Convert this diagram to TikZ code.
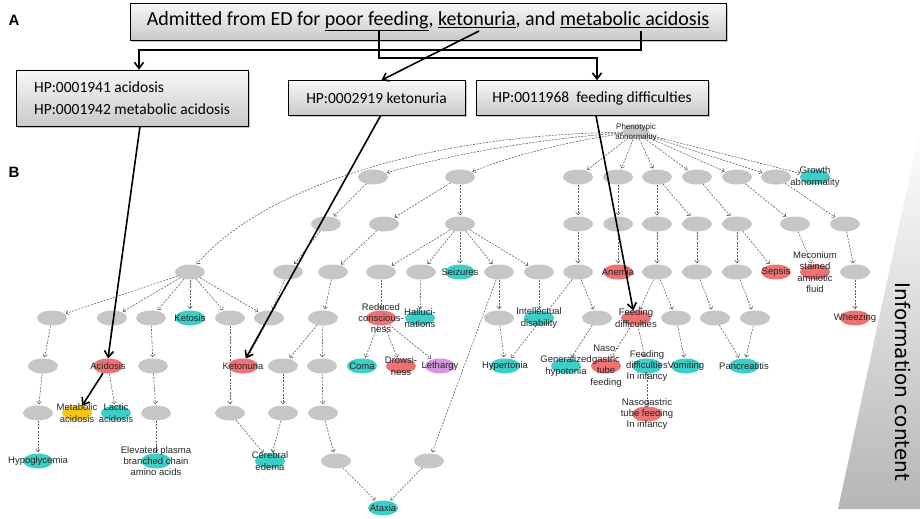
\documentclass[tikz,border=0pt]{standalone}
\usepackage{fontspec}
\setmainfont{Carlito}
\setsansfont{Liberation Sans}
\newfontfamily\icfont{DejaVu Sans}
\usetikzlibrary{shapes.geometric,arrows.meta,shadows,backgrounds}

\definecolor{nodegray}{RGB}{198,198,198}
\definecolor{hpoteal}{RGB}{62,206,200}
\definecolor{hpored}{RGB}{236,114,116}
\definecolor{hpoyellow}{RGB}{246,198,18}
\definecolor{hpopurple}{RGB}{214,150,226}
\definecolor{edgegray}{RGB}{95,95,95}

\begin{document}
\begin{tikzpicture}[x=1pt, y=-1pt,
    hpo/.style={ellipse, fill=nodegray, minimum width=30pt, minimum height=15pt, inner sep=0pt},
    tealhpo/.style={hpo, fill=hpoteal},
    redhpo/.style={hpo, fill=hpored},
    yellowhpo/.style={hpo, fill=hpoyellow},
    purplehpo/.style={hpo, fill=hpopurple},
    lbl/.style={font=\sffamily\fontsize{9.5}{11.3}\selectfont, align=center, inner sep=0pt, text=black!85},
    txt/.style={label={[lbl]center:#1}},
    isa/.style={-{Straight Barb[length=2.5pt,width=4.5pt]}, dash pattern=on 2pt off 1.3pt, line width=0.6pt, draw=edgegray, shorten >=1pt},
    map/.style={-{Straight Barb[length=6pt,width=9pt]}, line width=1.6pt, black},
    hpbox/.style={draw=black, line width=0.6pt, top color=gray!6, bottom color=gray!42, drop shadow={shadow xshift=2pt, shadow yshift=-2pt, opacity=0.45}}
  ]
  \useasboundingbox (0,0) rectangle (922,519);

  % panel letters
  \node[font=\sffamily\bfseries\fontsize{15}{15}\selectfont] (panA) at (14,20) {A};
  \node[font=\sffamily\bfseries\fontsize{15}{15}\selectfont] (panB) at (14,172) {B};

  % admission note and HPO terms
  \node[hpbox, minimum width=596pt, minimum height=37pt, font=\fontsize{20}{24}\selectfont] (admit) at (428,21.5)
    {Admitted from ED for \underline{poor feeding}, \underline{ketonuria}, and \underline{metabolic acidosis}};
  \coordinate (poor) at (379,31);
  \coordinate (keto) at (479,31);
  \coordinate (meta) at (641,31);
  \node[hpbox, minimum width=232pt, minimum height=56pt, align=left, font=\fontsize{15.5}{22}\selectfont] (hpacid) at (132,98)
    {HP:0001941 acidosis\\HP:0001942 metabolic acidosis};
  \node[hpbox, minimum width=177pt, minimum height=35pt, font=\fontsize{15.5}{20}\selectfont] (hpketo) at (376.5,98) {HP:0002919 ketonuria};
  \node[hpbox, minimum width=232pt, minimum height=35pt, font=\fontsize{15.5}{20}\selectfont] (hpfeed) at (592,98) {HP:0011968\ \ feeding difficulties};

  % root
  \node[hpo, minimum width=26pt, label={[lbl, font=\sffamily\fontsize{8}{10}\selectfont]center:Phenotypic\\abnormality}] (pheno) at (636,132) {};

  % row 1
  \node[hpo] (r1a) at (373,177) {};
  \node[hpo] (r1b) at (460,177) {};
  \node[hpo] (r1c) at (578,177) {};
  \node[hpo] (r1d) at (618,177) {};
  \node[hpo] (r1e) at (657,177) {};
  \node[hpo] (r1f) at (697,177) {};
  \node[hpo] (r1g) at (737,177) {};
  \node[hpo] (r1h) at (776,177) {};
  \node[tealhpo, txt={Growth\\abnormality}] (growth) at (815,177) {};

  % row 2
  \node[hpo] (r2a) at (326,224) {};
  \node[hpo] (r2b) at (384,224) {};
  \node[hpo] (r2c) at (460,224) {};
  \node[hpo] (r2d) at (578,224) {};
  \node[hpo] (r2e) at (618,224) {};
  \node[hpo] (r2f) at (657,224) {};
  \node[hpo] (r2g) at (697,224) {};
  \node[hpo] (r2h) at (737,224) {};
  \node[hpo] (r2i) at (795,224) {};
  \node[hpo] (r2j) at (845,224) {};

  % row 3
  \node[hpo] (r3k) at (190,272) {};
  \node[hpo] (r3a) at (288,272) {};
  \node[hpo] (r3b) at (333,272) {};
  \node[hpo] (r3c) at (381,272) {};
  \node[hpo] (r3d) at (421,272) {};
  \node[tealhpo, txt={Seizures}] (seiz) at (460,272) {};
  \node[hpo] (r3e) at (499,272) {};
  \node[hpo] (r3f) at (539,272) {};
  \node[hpo] (r3g) at (578,272) {};
  \node[redhpo, txt={Anemia}] (anemia) at (618,272) {};
  \node[hpo] (r3h) at (657,272) {};
  \node[hpo] (r3i) at (697,272) {};
  \node[hpo] (r3j) at (737,272) {};
  \node[redhpo, txt={Sepsis}] (sepsis) at (776,272) {};
  \node[redhpo, txt={Meconium\\stained\\amniotic\\fluid}] (mecon) at (815,272) {};
  \node[hpo] (r3l) at (855,272) {};

  % row 4
  \node[hpo] (r4a) at (52,318) {};
  \node[hpo] (r4b) at (112,318) {};
  \node[hpo] (r4c) at (151,318) {};
  \node[tealhpo, txt={Ketosis}] (ketosis) at (190,318) {};
  \node[hpo] (r4d) at (230,318) {};
  \node[hpo] (r4e) at (269,318) {};
  \node[hpo] (r4f) at (323,318) {};
  \node[redhpo, txt={Reduced\\conscious-\\ness}] (redcon) at (381,318) {};
  \node[tealhpo, txt={Halluci-\\nations}] (halluc) at (420,318) {};
  \node[hpo] (r4g) at (499,318) {};
  \node[tealhpo, txt={Intellectual\\disability}] (intdis) at (539,318) {};
  \node[hpo] (r4h) at (597,318) {};
  \node[redhpo, txt={Feeding\\difficulties}] (feeddiff) at (636,318) {};
  \node[hpo] (r4i) at (676,318) {};
  \node[hpo] (r4j) at (715,318) {};
  \node[hpo] (r4k) at (755,318) {};
  \node[redhpo, txt={Wheezing}] (wheez) at (855,318) {};

  % row 5
  \node[hpo] (r5a) at (43,366) {};
  \node[redhpo, txt={Acidosis}] (acid) at (108,366) {};
  \node[hpo] (r5b) at (153,366) {};
  \node[redhpo, txt={Ketonuria}] (ketonuria) at (243,366) {};
  \node[hpo] (r5c) at (283,366) {};
  \node[hpo] (r5d) at (322,366) {};
  \node[tealhpo, txt={Coma}] (coma) at (362,366) {};
  \node[redhpo, txt={Drowsi-\\ness}] (drows) at (401,366) {};
  \node[purplehpo, txt={Lethargy}] (leth) at (440,366) {};
  \node[tealhpo, txt={Hypertonia}] (hypert) at (505,366) {};
  \node[tealhpo, txt={Generalized\\hypotonia}] (genhyp) at (566,366) {};
  \node[redhpo, txt={Naso-\\gastric\\tube\\feeding}] (naso) at (606,366) {};
  \node[tealhpo, txt={Feeding\\difficulties\\In infancy}] (fdinf) at (647,366) {};
  \node[tealhpo, txt={Vomiting}] (vomit) at (686,366) {};
  \node[tealhpo, txt={Pancreatitis}] (pancr) at (744,366) {};

  % row 6
  \node[hpo] (r6a) at (38,413) {};
  \node[yellowhpo, txt={Metabolic\\acidosis}] (metacid) at (77,413) {};
  \node[tealhpo, txt={Lactic\\acidosis}] (lactic) at (116,413) {};
  \node[hpo] (r6b) at (156,413) {};
  \node[hpo] (r6c) at (230,413) {};
  \node[hpo] (r6d) at (283,413) {};
  \node[hpo] (r6e) at (323,413) {};
  \node[redhpo, txt={Nasogastric\\tube feeding\\In infancy}] (nasoinf) at (647,414) {};

  % row 7 and 8
  \node[tealhpo, txt={Hypoglycemia}] (hypogl) at (38,461) {};
  \node[tealhpo, txt={Elevated plasma\\branched chain\\amino acids}] (elev) at (156,461) {};
  \node[tealhpo, txt={Cerebral\\edema}] (cereb) at (270,461) {};
  \node[hpo] (r7a) at (336,461) {};
  \node[hpo] (r7b) at (429,461) {};
  \node[tealhpo, txt={Ataxia}] (ataxia) at (383,508) {};

  % information content wedge
  \begin{scope}[on background layer]
    \shade[top color=white, bottom color=gray!58] (838,509) -- (920,509) -- (920,128) -- cycle;
  \end{scope}
  \node[rotate=-90, font=\icfont\fontsize{20}{20}\selectfont] (ic) at (903,382) {Information content};

  % is-a edges
  \begin{scope}[on background layer]
    \draw[isa] (pheno) .. controls (420,135) and (260,190) .. (r3k);
    \draw[isa] (pheno) .. controls (520,140) and (430,160) .. (r1a);
    \draw[isa] (pheno) .. controls (560,142) and (500,160) .. (r1b);
    \draw[isa] (pheno) -- (r1c);
    \draw[isa] (pheno) -- (r1d);
    \draw[isa] (pheno) -- (r1e);
    \draw[isa] (pheno) -- (r1f);
    \draw[isa] (pheno) -- (r1g);
    \draw[isa] (pheno) -- (r1h);
    \draw[isa] (pheno) -- (growth);

    \draw[isa] (r1a) -- (r2a);
    \draw[isa] (r1b) -- (r2b);
    \draw[isa] (r1b) -- (r2c);
    \draw[isa] (r1c) -- (r2d);
    \draw[isa] (r1d) -- (r2e);
    \draw[isa] (r1e) -- (r2f);
    \draw[isa] (r1e) -- (r2g);
    \draw[isa] (r1f) -- (r2h);
    \draw[isa] (r1g) -- (r2i);
    \draw[isa] (r1h) -- (r2j);

    \draw[isa] (r2a) -- (r3a);
    \draw[isa] (r2b) -- (r3b);
    \draw[isa] (r2c) -- (r3c);
    \draw[isa] (r2c) -- (r3d);
    \draw[isa] (r2c) -- (seiz);
    \draw[isa] (r2c) -- (r3e);
    \draw[isa] (r2c) -- (r3f);
    \draw[isa] (r2d) -- (r3g);
    \draw[isa] (r2e) -- (anemia);
    \draw[isa] (r2f) -- (r3h);
    \draw[isa] (r2g) -- (r3i);
    \draw[isa] (r2h) -- (r3j);
    \draw[isa] (r2h) -- (sepsis);
    \draw[isa] (r2i) -- (mecon);
    \draw[isa] (r2j) -- (r3l);

    \draw[isa] (r3k) -- (r4a);
    \draw[isa] (r3k) -- (r4b);
    \draw[isa] (r3k) -- (r4c);
    \draw[isa] (r3k) -- (ketosis);
    \draw[isa] (r3k) -- (r4d);
    \draw[isa] (r3k) -- (r4e);
    \draw[isa] (r3a) -- (r4e);
    \draw[isa] (r3b) -- (r4f);
    \draw[isa] (r3c) -- (redcon);
    \draw[isa] (r3d) -- (halluc);
    \draw[isa] (r3e) -- (r4g);
    \draw[isa] (r3e) -- (r7b);
    \draw[isa] (r3f) -- (intdis);
    \draw[isa] (r3g) -- (r4h);
    \draw[isa] (r3g) -- (hypert);
    \draw[isa] (r3h) -- (feeddiff);
    \draw[isa] (r3h) -- (r4i);
    \draw[isa] (r3i) -- (r4j);
    \draw[isa] (r3j) -- (r4k);
    \draw[isa] (r3l) -- (wheez);

    \draw[isa] (r4a) -- (r5a);
    \draw[isa] (r4b) -- (acid);
    \draw[isa] (r4c) -- (r5b);
    \draw[isa] (r4d) -- (r6c);
    \draw[isa] (r4e) -- (ketonuria);
    \draw[isa] (r4f) -- (r5c);
    \draw[isa] (r4f) -- (r5d);
    \draw[isa] (redcon) -- (coma);
    \draw[isa] (redcon) -- (drows);
    \draw[isa] (redcon) -- (leth);
    \draw[isa] (r4g) -- (hypert);
    \draw[isa] (r4h) -- (genhyp);
    \draw[isa] (feeddiff) -- (naso);
    \draw[isa] (feeddiff) -- (fdinf);
    \draw[isa] (r4i) -- (vomit);
    \draw[isa] (r4j) -- (pancr);
    \draw[isa] (r4k) -- (pancr);

    \draw[isa] (r5a) -- (r6a);
    \draw[isa] (acid) -- (lactic);
    \draw[isa] (r5b) -- (r6b);
    \draw[isa] (r5c) -- (r6d);
    \draw[isa] (r5d) -- (r6e);
    \draw[isa] (fdinf) -- (nasoinf);

    \draw[isa] (r6a) -- (hypogl);
    \draw[isa] (r6b) -- (elev);
    \draw[isa] (r6c) -- (cereb);
    \draw[isa] (r6d) -- (cereb);
    \draw[isa] (r6e) -- (r7a);
    \draw[isa] (r7a) -- (ataxia);
    \draw[isa] (r7b) -- (ataxia);
  \end{scope}

  % mapping of the note to terms
  \draw[map] (meta) -- ++(0,19) -| ([xshift=7pt]hpacid.north);
  \draw[map] (poor) -- ++(0,27) -| ([xshift=5pt]hpfeed.north);
  \draw[map] (keto) -- ([xshift=5pt]hpketo.north);
  \draw[map] ([xshift=8pt]hpacid.south) -- (acid.north);
  \draw[map] ([xshift=4pt]hpketo.south) -- (ketonuria.70);
  \draw[map] ([xshift=4pt]hpfeed.south) -- (feeddiff.110);
  \draw[map] (acid.235) -- (metacid.55);
\end{tikzpicture}
\end{document}
